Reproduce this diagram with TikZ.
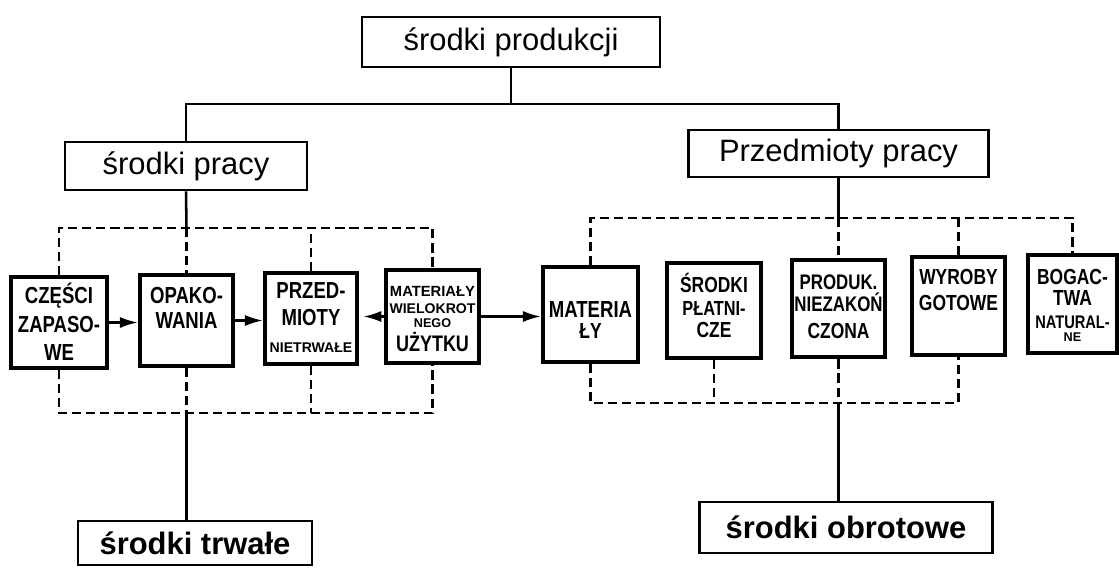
\documentclass[tikz,border=0pt]{standalone}
\usepackage{fontspec}
\setmainfont{Liberation Sans}
\newfontfamily\cond{Liberation Sans}[FakeStretch=0.8]
\usetikzlibrary{arrows.meta}
\newdimen\px \px=0.025cm
\newcommand\sbtext[4]{\parbox[c][#1\px][t]{#2\px}{\centering\lineskiplimit=-\maxdimen\lineskip=0pt\relax\vspace*{#3\px}#4}}
\newcommand\clin[3]{{\cond\bfseries\fontsize{#1pt}{#2pt}\selectfont #3\par}}
\newcommand\nlin[3]{{\normalfont\bfseries\fontsize{#1pt}{#2pt}\selectfont #3\par}}
\tikzset{
  hbox/.style={draw, line width=2pt, inner sep=0pt, font=\fontsize{22pt}{26pt}\selectfont},
  sbox/.style={draw, line width=2.8pt, inner sep=0pt},
  conn/.style={line width=1.8pt},
  dconn/.style={line width=2pt, dash pattern=on 6.5pt off 3.5pt},
  arr/.style={line width=1.8pt, -{Latex[length=13pt,width=8pt]}},
}
\begin{document}
\begin{tikzpicture}[x=0.025cm, y=-0.025cm]
\useasboundingbox (0,0) rectangle (1119,568);

% main boxes
\node[hbox, minimum width=7.45cm, minimum height=1.25cm] (top) at (511,42) {środki produkcji};
\node[hbox, minimum width=6.05cm, minimum height=1.2cm] (spr) at (186,166) {środki pracy};
\node[hbox, minimum width=7.5cm, minimum height=1.175cm] (ppr) at (838.5,153.5) {Przedmioty pracy};
\node[hbox, minimum width=5.85cm, minimum height=1.1cm, font=\fontsize{22pt}{26pt}\selectfont\bfseries] (str) at (195,543) {środki trwałe};
\node[hbox, minimum width=7.325cm, minimum height=1.275cm, font=\fontsize{22pt}{26pt}\selectfont\bfseries] (sob) at (846,527.5) {środki obrotowe};

% small boxes, left group
\node[sbox] (cz) at (59,322.5) {\sbtext{91}{96}{26}{%
  \clin{16.5}{20}{\smash{CZĘŚCI}}\clin{16.5}{21.3}{ZAPASO-}\clin{16.5}{19.9}{WE}}};
\node[sbox] (op) at (186.5,320.5) {\sbtext{91}{93}{28}{%
  \clin{16.5}{20}{\smash{OPAKO-}}\clin{16.5}{17.8}{WANIA}}};
\node[sbox] (pr) at (311,318.5) {\sbtext{91}{92}{25}{%
  \clin{16.5}{20}{\smash{PRZED-}}\clin{16.5}{19.9}{MIOTY}\nlin{10}{18.5}{NIETRWAŁE}}};
\node[sbox] (mw) at (432.5,316.5) {\sbtext{93}{93}{26}{%
  \nlin{10.5}{12}{\smash{MATERIAŁY}}\nlin{10}{12.5}{WIELOKROT}\nlin{9}{10}{NEGO}\clin{16}{17}{UŻYTKU}}};

% small boxes, right group
\node[sbox] (mr) at (590.5,314.5) {\sbtext{95}{95}{50}{%
  \clin{16.5}{20}{\smash{MATERIA}}\clin{15.5}{15}{ŁY}}};
\node[sbox] (sp) at (714,310.5) {\sbtext{95}{94}{29.5}{%
  \clin{15.5}{18}{\smash{ŚRODKI}}\clin{14.5}{16}{PŁATNI-}\clin{15.5}{16}{CZE}}};
\node[sbox, line width=3.4pt] (pd) at (838.5,308.5) {\sbtext{97}{93}{29.5}{%
  \clin{15}{18}{\smash{PRODUK.}}\clin{15}{15.5}{NIEZAKOŃ}\clin{15.5}{19.2}{CZONA}}};
\node[sbox] (wy) at (958.5,306) {\sbtext{98}{93}{27.5}{%
  \clin{15.5}{18}{\smash{WYROBY}}\clin{15.5}{18.5}{GOTOWE}}};
\node[sbox] (bo) at (1072.5,304) {\sbtext{98}{89}{29.5}{%
  \clin{15.5}{18}{\smash{BOGAC-}}\clin{15.5}{14.9}{TWA}\clin{13}{16.4}{NATURAL-}\nlin{9}{9.5}{NE}}};

% top tree
\coordinate (j0) at (511,104);
\draw[conn] (top.south) -- (j0);
\draw[conn] (j0) -| (spr.north);
\draw[conn] (j0) -| (ppr.north);

% left group connectors
\coordinate (lt) at (186.5,228);
\coordinate (lb) at (186.5,413);
\draw[conn] (spr.south) -- (lt);
\draw[dconn] (cz.north) -- (cz.north |- lt) -- (mw.north |- lt) -- (mw.north);
\draw[dconn] (lt) -- (op.north);
\draw[dconn] (pr.north) -- (pr.north |- lt);
\draw[dconn] (cz.south) -- (cz.south |- lb) -- (mw.south |- lb) -- (mw.south);
\draw[dconn] (op.south) -- (lb);
\draw[dconn] (pr.south) -- (pr.south |- lb);
\draw[conn] (lb) -- (lb |- str.north);

% right group connectors
\coordinate (rt) at (838.5,218);
\coordinate (rb) at (838.5,403);
\draw[conn] (ppr.south) -- (rt);
\draw[dconn] (mr.north) -- (mr.north |- rt) -- (bo.north |- rt) -- (bo.north);
\draw[dconn] (rt) -- (pd.north);
\draw[dconn] (wy.north) -- (wy.north |- rt);
\draw[dconn] (mr.south) -- (mr.south |- rb) -- (wy.south |- rb) -- (wy.south);
\draw[dconn] (sp.south) -- (sp.south |- rb);
\draw[dconn] (pd.south) -- (rb);
\draw[conn] (rb) -- (rb |- sob.north);

% arrows
\draw[arr] (cz.east) -- (cz.east -| op.west);
\draw[arr] (op.east) -- (op.east -| pr.west);
\draw[arr, shorten >=3pt] (mw.west) -- (mw.west -| pr.east);
\draw[arr] (mw.east) -- (mw.east -| mr.west);
\end{tikzpicture}
\end{document}
